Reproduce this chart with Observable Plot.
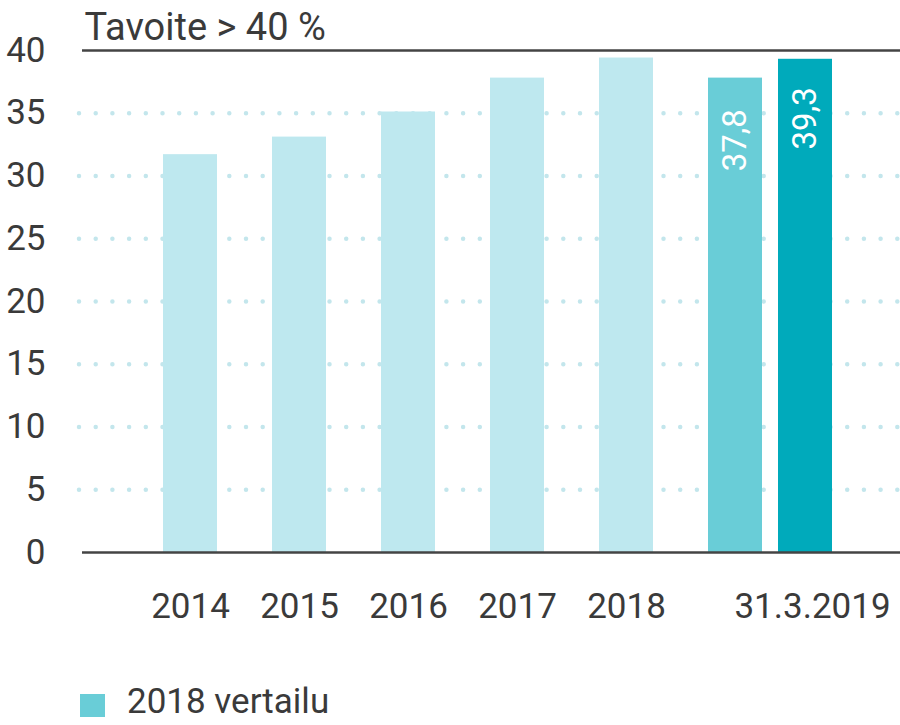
<!DOCTYPE html>
<html>
<head>
<meta charset="utf-8">
<script src="https://cdn.jsdelivr.net/npm/d3@7"></script>
<script src="https://cdn.jsdelivr.net/npm/@observablehq/plot@0.6"></script>
<style>
  html, body { margin: 0; padding: 0; background: #fff; }
  body { width: 900px; height: 725px; overflow: hidden; font-family: Roboto, sans-serif; }
  #chart svg { display: block; }
  #legend { display: flex; align-items: center; margin-left: 80px; margin-top: 4px; color: #3a3a3a; font-size: 35px; line-height: 36px; height: 36px; }
  #legend .sw { width: 25px; height: 23px; margin-right: 22px; margin-top: 6px; flex: none; }
</style>
</head>
<body>
<div id="chart"></div>
<div id="legend"></div>
<script>
const categories = ["2014", "2015", "2016", "2017", "2018", "2018 vertailu", "31.3.2019"];
const values = [31.7, 33.1, 35.1, 37.8, 39.4, 37.8, 39.3];
const labelled = ["2018 vertailu", "31.3.2019"];
const valueLabels = ["37,8", "39,3"];
const yTicks = [0, 5, 10, 15, 20, 25, 30, 35, 40];
const gridTicks = [5, 10, 15, 20, 25, 30, 35];
const xLabelsYears = ["2014", "2015", "2016", "2017", "2018"];
const xLabelLast = ["31.3.2019"];
const title = "Tavoite > 40 %";
const legendLabel = "2018 vertailu";

const colors = {
  "2014": "#bee8ef", "2015": "#bee8ef", "2016": "#bee8ef", "2017": "#bee8ef", "2018": "#bee8ef",
  "2018 vertailu": "#69cdd7", "31.3.2019": "#00aabb"
};

const data = categories.map((c, i) => ({cat: c, value: values[i]}));
const mainBars = data.filter(d => d.cat !== "31.3.2019");
const lastBar = data.filter(d => d.cat === "31.3.2019");
const labData = labelled.map((c, i) => ({cat: c, value: values[categories.indexOf(c)], label: valueLabels[i]}));

const textColor = "#3a3a3a";
const font = "Roboto, sans-serif";

const chart = Plot.plot({
  width: 900,
  height: 680,
  marginTop: 50,
  marginBottom: 128,
  marginLeft: 82,
  marginRight: 0,
  style: {fontFamily: font, fontSize: "35px", color: textColor, background: "#fff"},
  x: {type: "band", domain: categories, paddingInner: 0.506, paddingOuter: 0.4966, align: 0.737, axis: null},
  y: {domain: [0, 40], axis: null},
  marks: [
    Plot.ruleY(gridTicks, {stroke: "#c3e6ec", strokeWidth: 4.5, strokeDasharray: "0 16.7", strokeLinecap: "round", insetLeft: -3, insetRight: 0}),
    Plot.barY(mainBars, {x: "cat", y: "value", fill: d => colors[d.cat]}),
    Plot.barY(lastBar, {x: "cat", y: "value", fill: d => colors[d.cat], dx: -39}),
    Plot.ruleY([0, 40], {stroke: "#444", strokeWidth: 2.6}),
    Plot.axisY({ticks: yTicks, tickSize: 0, tickPadding: 37, fontSize: 35, fill: textColor, label: null}),
    Plot.text(labData.filter(d => d.cat !== "31.3.2019"), {x: "cat", y: "value", text: "label", rotate: -90, textAnchor: "end", dy: 31, fill: "white", fontSize: 33}),
    Plot.text(labData.filter(d => d.cat === "31.3.2019"), {x: "cat", y: "value", text: "label", rotate: -90, textAnchor: "end", dy: 28, dx: -39, fill: "white", fontSize: 33}),
    Plot.text(xLabelsYears, {x: d => d, frameAnchor: "bottom", dy: 54, lineAnchor: "middle", fill: textColor, fontSize: 35}),
    Plot.text(xLabelLast, {x: d => d, frameAnchor: "bottom", dy: 54, dx: -32, lineAnchor: "middle", fill: textColor, fontSize: 35}),
    Plot.text([title], {frameAnchor: "top-left", textAnchor: "start", lineAnchor: "bottom", dx: 2, dy: -11, fill: textColor, fontSize: 38})
  ]
});
document.getElementById("chart").appendChild(chart);

const lg = document.getElementById("legend");
const sw = document.createElement("span");
sw.className = "sw";
sw.style.background = colors["2018 vertailu"];
lg.appendChild(sw);
const t = document.createElement("span");
t.textContent = legendLabel;
lg.appendChild(t);
</script>
</body>
</html>
